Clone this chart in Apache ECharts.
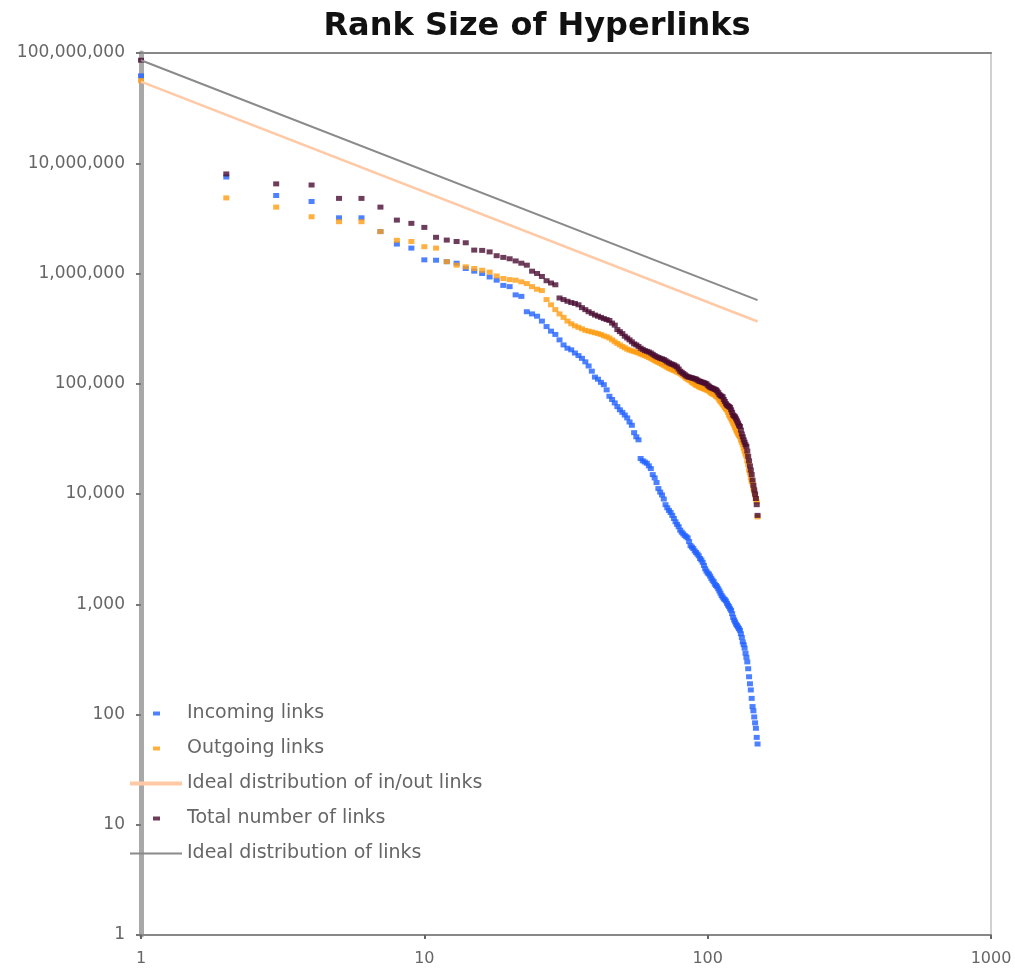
<!DOCTYPE html>
<html><head><meta charset="utf-8">
<script src="https://cdn.jsdelivr.net/npm/echarts@6/dist/echarts.min.js"></script>
<style>html,body{margin:0;padding:0;background:#fff}#c{width:1015px;height:970px}</style>
</head><body><div id="c"></div>
<script>
const chartTitle = 'Rank Size of Hyperlinks';
const names = ['Incoming links', 'Outgoing links', 'Ideal distribution of in/out links', 'Total number of links', 'Ideal distribution of links'];

const incoming = [
  6.2e7, 7.5e6, 5.1e6, 4.5e6, 3.2e6, 3.2e6, 2.4e6, 1.85e6, 1.7e6, 1.33e6,
  1.32e6, 1.28e6, 1.24e6, 1.11e6, 1.05e6, 1.0e6, 9.3e5, 8.7e5, 7.8e5, 7.6e5,
  6.4e5, 6.2e5, 4.5e5, 4.3e5, 4.1e5, 3.7e5, 3.3e5, 3.0e5, 2.8e5, 2.5e5,
  2.25e5, 2.1e5, 2.03e5, 1.9e5, 1.8e5, 1.7e5, 1.58e5, 1.45e5, 1.3e5, 1.15e5,
  1.1e5, 1.03e5, 9.8e4, 8.8e4, 7.7e4, 7.2e4, 6.7e4, 6.2e4, 5.8e4, 5.5e4,
  5.2e4, 4.9e4, 4.5e4, 4.2e4, 3.6e4, 3.3e4, 3.1e4, 2.1e4, 2.0e4, 1.95e4,
  1.9e4, 1.8e4, 1.7e4, 1.5e4, 1.4e4, 1.27e4, 1.12e4, 1.04e4, 9.8e3, 9.0e3,
  8.0e3, 7.5e3, 7.1e3, 6.8e3, 6.4e3, 6.0e3, 5.6e3, 5.3e3, 5.05e3, 4.7e3,
  4.5e3, 4.35e3, 4.2e3, 4.1e3, 4.0e3, 3.7e3, 3.4e3, 3.3e3, 3.2e3, 3.05e3,
  2.95e3, 2.85e3, 2.75e3, 2.6e3, 2.52e3, 2.4e3, 2.25e3, 2.1e3, 2.0e3, 1.92e3,
  1.88e3, 1.8e3, 1.72e3, 1.65e3, 1.6e3, 1.52e3, 1.48e3, 1.44e3, 1.38e3, 1.32e3,
  1.26e3, 1.2e3, 1.16e3, 1.12e3, 1.1e3, 1.07e3, 1.02e3, 980, 950, 910,
  880, 820, 760, 720, 690, 660, 640, 620, 600, 580,
  540, 500, 455, 430, 400, 360, 330, 300, 260, 220,
  190, 167, 140, 118, 108, 95, 84, 75, 62, 54
];

const outgoing = [
  5.6e7, 4.85e6, 4.0e6, 3.27e6, 2.95e6, 2.95e6, 2.4e6, 2.0e6, 1.95e6, 1.75e6,
  1.7e6, 1.28e6, 1.19e6, 1.15e6, 1.11e6, 1.07e6, 1.03e6, 9.5e5, 9.0e5, 8.8e5,
  8.7e5, 8.4e5, 8.1e5, 7.6e5, 7.2e5, 7.0e5, 5.8e5, 5.2e5, 4.7e5, 4.3e5,
  4.0e5, 3.7e5, 3.5e5, 3.35e5, 3.25e5, 3.15e5, 3.05e5, 3.0e5, 2.95e5, 2.9e5,
  2.85e5, 2.8e5, 2.72e5, 2.67e5, 2.6e5, 2.5e5, 2.4e5, 2.32e5, 2.25e5, 2.18e5,
  2.12e5, 2.06e5, 2.02e5, 1.99e5, 1.96e5, 1.93e5, 1.9e5, 1.86e5, 1.83e5, 1.8e5,
  1.77e5, 1.73e5, 1.7e5, 1.66e5, 1.62e5, 1.59e5, 1.56e5, 1.53e5, 1.5e5, 1.47e5,
  1.44e5, 1.41e5, 1.38e5, 1.36e5, 1.34e5, 1.32e5, 1.3e5, 1.28e5, 1.26e5, 1.24e5,
  1.21e5, 1.18e5, 1.15e5, 1.12e5, 1.1e5, 1.08e5, 1.06e5, 1.03e5, 1.01e5, 9.9e4,
  9.7e4, 9.6e4, 9.4e4, 9.3e4, 9.2e4, 9.1e4, 9.0e4, 8.9e4, 8.8e4, 8.7e4,
  8.6e4, 8.4e4, 8.2e4, 8.1e4, 8.0e4, 7.9e4, 7.7e4, 7.6e4, 7.4e4, 7.1e4,
  6.9e4, 6.7e4, 6.5e4, 6.3e4, 6.1e4, 5.9e4, 5.8e4, 5.5e4, 5.2e4, 5.0e4,
  4.8e4, 4.6e4, 4.4e4, 4.2e4, 4.0e4, 3.8e4, 3.65e4, 3.5e4, 3.4e4, 3.3e4,
  3.1e4, 2.95e4, 2.8e4, 2.6e4, 2.45e4, 2.3e4, 2.2e4, 2.0e4, 1.85e4, 1.65e4,
  1.55e4, 1.4e4, 1.3e4, 1.25e4, 1.13e4, 1.05e4, 9.8e3, 9.0e3, 8.5e3, 6.2e3
];

const total = [
  8.6e7, 8.0e6, 6.5e6, 6.35e6, 4.8e6, 4.8e6, 4.0e6, 3.05e6, 2.85e6, 2.62e6,
  2.13e6, 2.01e6, 1.95e6, 1.9e6, 1.63e6, 1.62e6, 1.57e6, 1.45e6, 1.4e6, 1.36e6,
  1.3e6, 1.24e6, 1.19e6, 1.05e6, 1.0e6, 9.4e5, 8.6e5, 8.2e5, 7.9e5, 6.0e5,
  5.8e5, 5.6e5, 5.45e5, 5.35e5, 5.2e5, 4.9e5, 4.7e5, 4.5e5, 4.35e5, 4.2e5,
  4.1e5, 4.0e5, 3.9e5, 3.82e5, 3.75e5, 3.55e5, 3.4e5, 3.1e5, 2.97e5, 2.85e5,
  2.7e5, 2.6e5, 2.5e5, 2.4e5, 2.3e5, 2.25e5, 2.18e5, 2.1e5, 2.05e5, 2.0e5,
  1.97e5, 1.94e5, 1.9e5, 1.85e5, 1.8e5, 1.76e5, 1.73e5, 1.7e5, 1.68e5, 1.66e5,
  1.62e5, 1.58e5, 1.55e5, 1.52e5, 1.5e5, 1.48e5, 1.45e5, 1.42e5, 1.36e5, 1.3e5,
  1.27e5, 1.24e5, 1.21e5, 1.18e5, 1.16e5, 1.15e5, 1.14e5, 1.13e5, 1.12e5, 1.11e5,
  1.1e5, 1.08e5, 1.06e5, 1.05e5, 1.04e5, 1.03e5, 1.02e5, 1.01e5, 1.0e5, 9.7e4,
  9.5e4, 9.3e4, 9.2e4, 9.1e4, 9.0e4, 8.9e4, 8.8e4, 8.6e4, 8.3e4, 8.0e4,
  7.8e4, 7.7e4, 7.6e4, 7.2e4, 6.9e4, 6.6e4, 6.4e4, 6.3e4, 6.2e4, 6.1e4,
  5.8e4, 5.5e4, 5.2e4, 5.1e4, 5.0e4, 4.8e4, 4.6e4, 4.4e4, 4.2e4, 4.1e4,
  3.8e4, 3.5e4, 3.3e4, 3.1e4, 2.95e4, 2.8e4, 2.7e4, 2.45e4, 2.2e4, 2.0e4,
  1.8e4, 1.65e4, 1.5e4, 1.34e4, 1.2e4, 1.09e4, 1.0e4, 9.1e3, 8.0e3, 6.4e3
];

const idealRanks = [1, 150];
const idealInOut = [5.5e7, 3.67e5];
const idealTotal = [8.6e7, 5.73e5];

const colors = ['#2262ff', '#ff9c10', '#ffc9a6', '#4a0c32', '#8a8a8a'];

function pairs(vals) { return vals.map((v, i) => [i + 1, v]); }
function linePairs(xs, ys) { return xs.map((x, i) => [x, ys[i]]); }

const chart = echarts.init(document.getElementById('c'), null, { renderer: 'canvas' });

const legendCenters = [712, 747, 782, 817, 852];
const legendFont = { fontFamily: 'DejaVu Sans', fontSize: 19, color: '#666' };
const legends = names.map((n, i) => {
  const isLine = (i === 2 || i === 4);
  return {
    data: [n],
    orient: 'horizontal',
    left: isLine ? 130 : 153,
    top: legendCenters[i] - 8,
    padding: 0,
    icon: 'rect',
    itemWidth: isLine ? 52 : 7,
    itemHeight: isLine ? (i === 2 ? 4 : 2) : 4,
    selectedMode: false,
    textStyle: Object.assign({}, legendFont, { padding: [0, 0, 0, isLine ? 0 : 22] })
  };
});

const scatterBase = { type: 'scatter', symbol: 'rect', symbolSize: [6, 5], animation: false };

const option = {
  backgroundColor: '#fff',
  animation: false,
  title: {
    text: chartTitle,
    left: 532, top: 6, textAlign: 'center',
    textStyle: { fontFamily: 'DejaVu Sans', fontWeight: 'bold', fontSize: 32, color: '#111' }
  },
  legend: legends,
  grid: { left: 141, right: 24, top: 53, bottom: 35, containLabel: false, show: true, borderColor: '#d0d0d0', borderWidth: 2 },
  xAxis: [{
    type: 'log', logBase: 10, min: 1, max: 1000, splitNumber: 3,
    axisLine: { show: true, lineStyle: { color: '#888', width: 2 } },
    axisTick: { show: true, length: 4, lineStyle: { color: '#666', width: 2 } },
    minorTick: { show: false },
    splitLine: { show: false },
    axisLabel: { margin: 16, fontFamily: 'DejaVu Sans', fontSize: 16, color: '#666', formatter: v => String(Math.round(v)) }
  }, {
    type: 'log', logBase: 10, min: 1, max: 1000, position: 'top',
    axisLine: { show: true, lineStyle: { color: '#888', width: 2 } },
    axisTick: { show: false }, axisLabel: { show: false }, splitLine: { show: false }
  }],
  yAxis: {
    type: 'log', logBase: 10, min: 1, max: 1e8, splitNumber: 8,
    axisLine: { show: true, lineStyle: { color: '#a8a8a8', width: 5 } },
    axisTick: { show: true, length: 5, lineStyle: { color: '#777', width: 2 } },
    splitLine: { show: false },
    axisLabel: { margin: 16, fontFamily: 'DejaVu Sans', fontSize: 17, color: '#666',
      formatter: v => Math.round(v).toLocaleString('en-US') }
  },
  series: [
    Object.assign({}, scatterBase, { name: names[0], color: colors[0], data: pairs(incoming) }),
    Object.assign({}, scatterBase, { name: names[1], color: colors[1], data: pairs(outgoing) }),
    { name: names[2], type: 'line', color: colors[2], showSymbol: false, symbol: 'none',
      lineStyle: { color: colors[2], width: 2.5 }, data: linePairs(idealRanks, idealInOut) },
    Object.assign({}, scatterBase, { name: names[3], color: colors[3], data: pairs(total) }),
    { name: names[4], type: 'line', color: colors[4], showSymbol: false, symbol: 'none',
      lineStyle: { color: colors[4], width: 2 }, data: linePairs(idealRanks, idealTotal) }
  ]
};
chart.setOption(option);
</script></body></html>
